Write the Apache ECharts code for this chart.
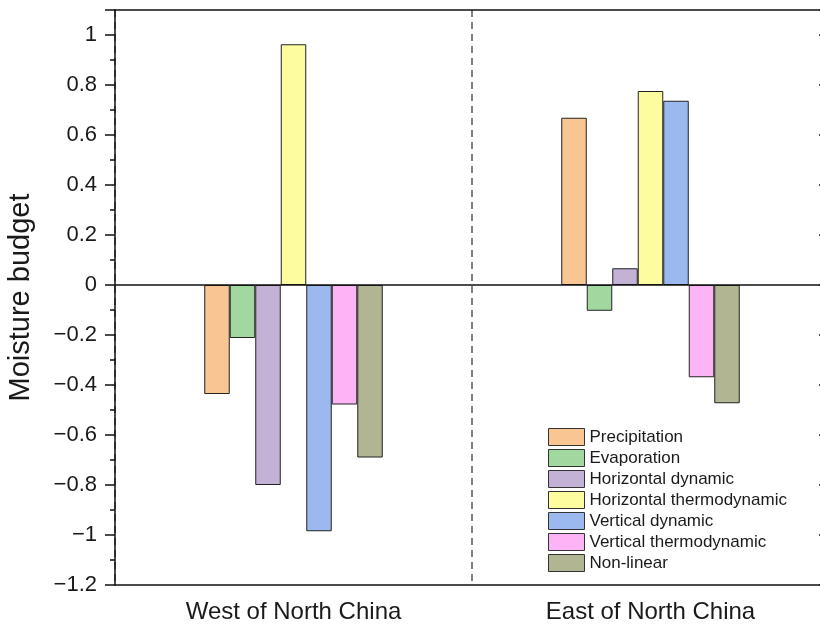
<!DOCTYPE html>
<html>
<head>
<meta charset="utf-8">
<script src="https://cdn.jsdelivr.net/npm/echarts@6/dist/echarts.min.js"></script>
<style>
  html, body { margin: 0; padding: 0; background: #fff; }
  #chart { width: 820px; height: 633px; }
</style>
</head>
<body>
<div id="chart"></div>
<script>
const regions = ['West of North China', 'East of North China'];
const termNames = ['Precipitation', 'Evaporation', 'Horizontal dynamic', 'Horizontal thermodynamic',
  'Vertical dynamic', 'Vertical thermodynamic', 'Non-linear'];
const termColors = ['#F9C593', '#A0D89F', '#C3B2D5', '#FDFD9F', '#9BB9EE', '#FCB4F6', '#B1B592'];

// one array per term: [west, east]
const precipitation = [-0.436, 0.669];
const evaporation = [-0.212, -0.103];
const horizDynamic = [-0.80, 0.067];
const horizThermo = [0.963, 0.776];
const vertDynamic = [-0.985, 0.737];
const vertThermo = [-0.478, -0.369];
const nonLinear = [-0.690, -0.473];

const termValues = [precipitation, evaporation, horizDynamic, horizThermo, vertDynamic, vertThermo, nonLinear];

const font = 'Liberation Sans, Arial, sans-serif';
const ink = '#1a1a1a';

const chart = echarts.init(document.getElementById('chart'));

const series = termNames.map((name, i) => ({
  name: name,
  type: 'bar',
  data: termValues[i],
  barGap: '0%',
  barCategoryGap: '50%',
  itemStyle: { color: termColors[i], borderColor: '#222', borderWidth: 1 },
  emphasis: { disabled: true },
  animation: false
}));

// zero line
series[0].markLine = {
  silent: true,
  symbol: 'none',
  label: { show: false },
  lineStyle: { color: '#111', type: 'solid', width: 1.5 },
  data: [{ yAxis: 0 }]
};

function yLabel(v) {
  const r = Math.round(v * 10) / 10;
  if (Math.abs(Math.round(r * 5) - r * 5) > 1e-6) return '';
  if (r > 1.05) return '';
  return String(r).replace('-', '\u2212');
}

chart.setOption({
  animation: false,
  backgroundColor: '#fff',
  grid: { left: 115, top: 10, width: 714, height: 575, outerBoundsMode: 'none' },
  legend: {
    orient: 'vertical',
    left: 548,
    top: 428,
    padding: 0,
    itemWidth: 36,
    itemHeight: 17,
    itemGap: 3,
    icon: 'rect',
    selectedMode: false,
    textStyle: { fontFamily: font, fontSize: 17, lineHeight: 17, color: ink, padding: [0, 0, 0, 0] },
    itemStyle: { borderColor: '#333', borderWidth: 1 },
    data: termNames
  },
  xAxis: [{
    type: 'category',
    data: regions,
    position: 'bottom',
    axisLine: { onZero: false, lineStyle: { color: '#111', width: 1.5 } },
    axisTick: { alignWithLabel: true, length: 9, lineStyle: { color: '#111', width: 1.5 } },
    axisLabel: { fontFamily: font, fontSize: 24, color: ink, margin: 15 },
    splitLine: { show: true, lineStyle: { color: '#808080', type: [7, 5], width: 2 } }
  }, {
    type: 'category',
    data: regions,
    position: 'top',
    axisLine: { onZero: false, lineStyle: { color: '#111', width: 1.5 } },
    axisTick: { alignWithLabel: true, inside: true, length: 9, lineStyle: { color: '#111', width: 1.5 } },
    axisLabel: { show: false }
  }],
  yAxis: [{
    type: 'value',
    min: -1.2,
    max: 1.1,
    interval: 0.2,
    name: 'Moisture budget',
    nameLocation: 'middle',
    nameGap: 80,
    nameTextStyle: { fontFamily: font, fontSize: 29, color: ink },
    axisLine: { show: true, onZero: false, lineStyle: { color: '#111', width: 1.5 } },
    axisTick: { show: true, length: 10, lineStyle: { color: '#111', width: 1.5 } },
    minorTick: { show: true, splitNumber: 2, length: 5, lineStyle: { color: '#111', width: 1.5 } },
    axisLabel: { fontFamily: font, fontSize: 22, color: ink, margin: 18, formatter: yLabel },
    splitLine: { show: false }
  }, {
    type: 'value',
    min: -1.2,
    max: 1.1,
    interval: 0.2,
    position: 'right',
    axisLine: { show: true, onZero: false, lineStyle: { color: '#111', width: 1.5 } },
    axisTick: { show: true, inside: true, length: 10, lineStyle: { color: '#111', width: 1.5 } },
    axisLabel: { show: false },
    splitLine: { show: false }
  }],
  series: series
});
</script>
</body>
</html>
